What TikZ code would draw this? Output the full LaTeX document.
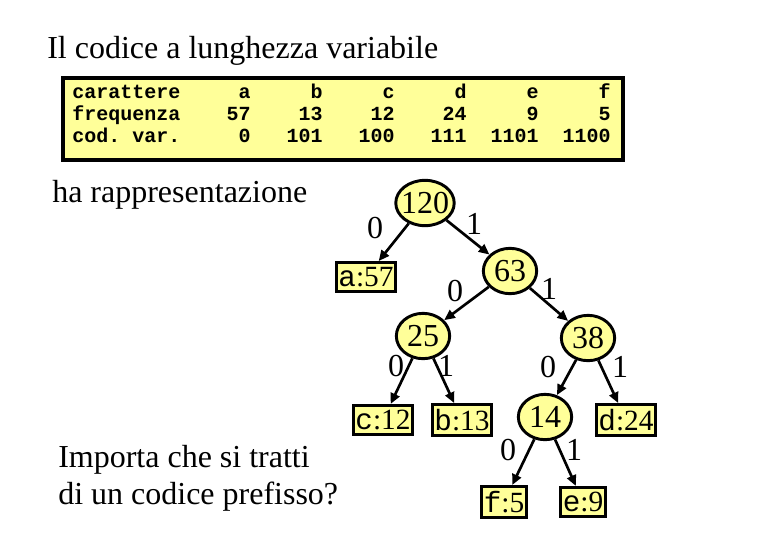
\documentclass[tikz,border=0pt]{standalone}
\usepackage{fontspec}
\setmainfont{Liberation Serif}
\setmonofont{Liberation Mono}
\usetikzlibrary{arrows.meta,shapes.geometric}

\definecolor{giallo}{RGB}{255,255,153}

\tikzset{
    nodo/.style={ellipse, draw, line width=2.2pt, fill=giallo, inner xsep=-2.5pt, inner ysep=0pt,
        minimum width=40pt, minimum height=34pt, font=\fontsize{24}{26}\selectfont},
    foglia/.style={rectangle, draw, line width=2.2pt, fill=giallo, inner xsep=1.5pt, inner ysep=3.5pt,
        font=\fontsize{22}{24}\selectfont},
    ramo/.style={line width=2pt, -{Triangle[length=8pt,width=7pt]}},
    bit/.style={font=\fontsize{24}{26}\selectfont},
    tab/.style={font=\fontsize{15}{17}\selectfont\ttfamily\bfseries, inner sep=0pt},
    testo/.style={font=\fontsize{24}{26}\selectfont, inner sep=0pt}
}

\begin{document}
\begin{tikzpicture}[x=0.75pt, y=-0.75pt]

    \useasboundingbox (0,0) rectangle (780,540);

    % titolo
    \node[testo, anchor=base west] (titolo) at (47,58) {Il codice a lunghezza variabile};

    % tabella
    \draw[line width=2.3pt, fill=giallo] (63,78) rectangle (623,160);
    \node[tab, anchor=base west] (r1) at (72,98) {carattere};
    \node[tab, anchor=base west] (r2) at (72,120) {frequenza};
    \node[tab, anchor=base west] (r3) at (72,142) {cod. var.};
    \foreach \x/\c/\f/\v in {251/a/57/0, 323/b/13/101, 395/c/12/100,
        467/d/24/111, 539/e/9/1101, 611/f/5/1100} {
        \node[tab, anchor=base east] (c-\c) at (\x,98) {\c};
        \node[tab, anchor=base east] (f-\c) at (\x,120) {\f};
        \node[tab, anchor=base east] (v-\c) at (\x,142) {\v};
    }

    \node[testo, anchor=base west] (rappr) at (52,202) {ha rappresentazione};

    % albero
    \node[nodo] (n120) at (425,203) {120};
    \node[foglia] (a57) at (366,277) {\texttt{a}:57};
    \node[nodo] (n63) at (510,271) {63};
    \node[nodo] (n25) at (423,336) {25};
    \node[nodo] (n38) at (588,338) {38};
    \node[foglia] (c12) at (383,420) {\texttt{c}:12};
    \node[foglia] (b13) at (462,420) {\texttt{b}:13};
    \node[nodo] (n14) at (545,417) {14};
    \node[foglia] (d24) at (626,420) {\texttt{d}:24};
    \node[foglia] (f5) at (504,502) {\texttt{f}:5};
    \node[foglia] (e9) at (583,502) {\texttt{e}:9};

    % rami
    \draw[ramo] (n120) -- (a57);
    \draw[ramo] (n120) -- (n63);
    \draw[ramo] (n63) -- (n25);
    \draw[ramo] (n63) -- (n38);
    \draw[ramo] (n25) -- (c12);
    \draw[ramo] (n25) -- (b13);
    \draw[ramo] (n38) -- (n14);
    \draw[ramo] (n38) -- (d24);
    \draw[ramo] (n14) -- (f5);
    \draw[ramo] (n14) -- (e9);

    % etichette 0/1
    \node[bit] (b120a) at (375,228) {0};
    \node[bit] (b120b) at (474,224) {1};
    \node[bit] (b63a) at (455,291) {0};
    \node[bit] (b63b) at (549,289) {1};
    \node[bit] (b25a) at (396,366) {0};
    \node[bit] (b25b) at (446,366) {1};
    \node[bit] (b38a) at (548,367) {0};
    \node[bit] (b38b) at (620,367) {1};
    \node[bit] (b14a) at (508,450) {0};
    \node[bit] (b14b) at (574,450) {1};

    % domanda
    \node[testo, anchor=west, align=left] (domanda) at (58,478)
        {Importa che si tratti\\[2pt]di un codice prefisso?};

\end{tikzpicture}
\end{document}
